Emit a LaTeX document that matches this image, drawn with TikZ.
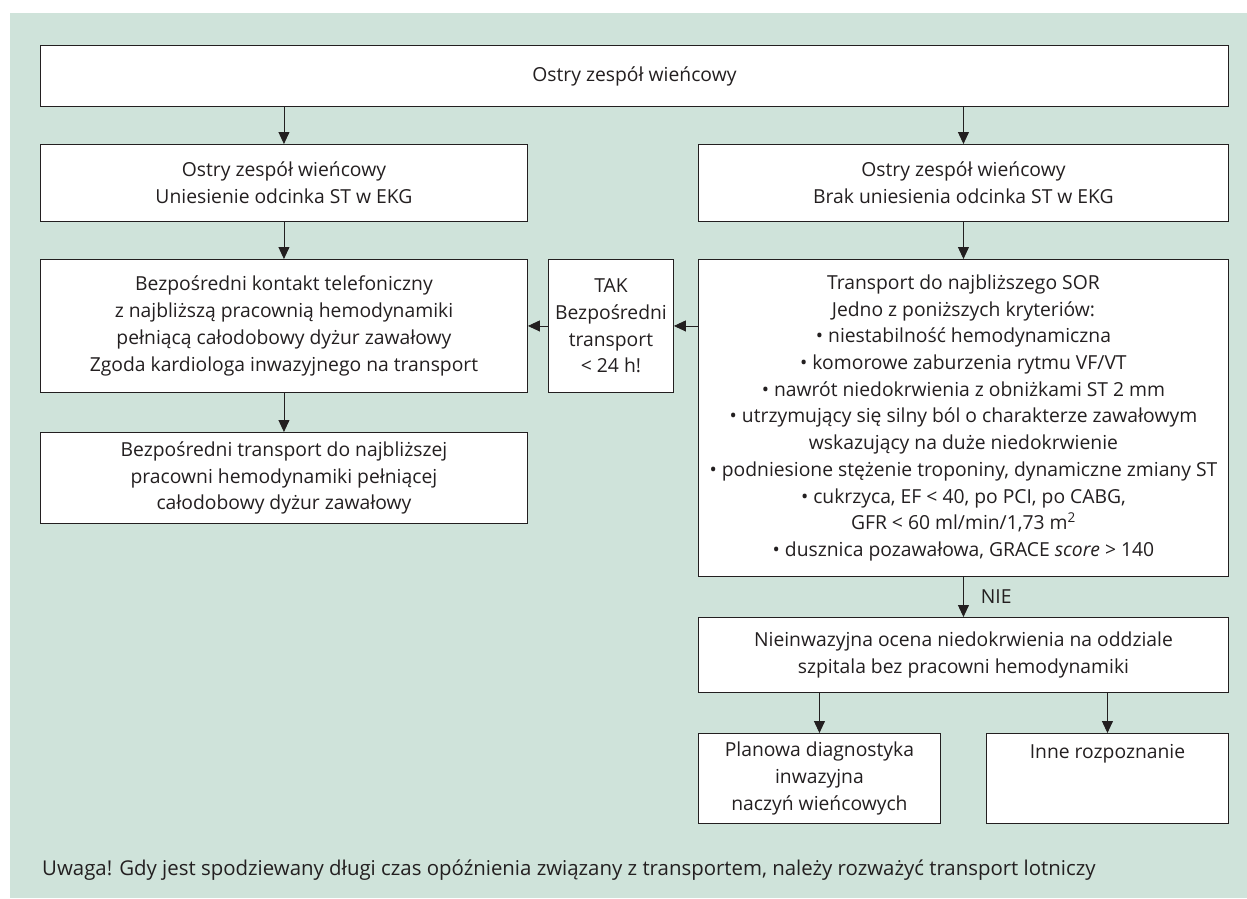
\documentclass[tikz,border=0pt]{standalone}
\usepackage{fontspec}
\setmainfont{Open Sans}
\usetikzlibrary{arrows.meta}
\definecolor{panel}{RGB}{207,227,218}
\definecolor{ink}{RGB}{35,31,32}
\begin{document}
\begin{tikzpicture}[x=1pt,y=-1pt,
  box/.style={draw=ink, line width=0.9pt, fill=white, rectangle, inner sep=0pt,
    align=center, font=\fontsize{19.3}{26.7}\selectfont, text=ink, anchor=north west},
  arr/.style={draw=ink, line width=0.9pt, -{Triangle[width=11pt,length=12pt]}},
  lbl/.style={font=\fontsize{19.3}{26.7}\selectfont, text=ink, inner sep=0pt}
]
\useasboundingbox (0,0) rectangle (1247,898);
\fill[panel] (10,13) rectangle (1247,898);

\node[box, minimum width=1188pt, minimum height=61pt] (top) at (40,45) {Ostry zespół wieńcowy};
\node[box, minimum width=487pt, minimum height=77pt] (L1) at (40,144)
  {Ostry zespół wieńcowy\\Uniesienie odcinka ST w EKG};
\node[box, minimum width=530pt, minimum height=77pt] (R1) at (698,144)
  {Ostry zespół wieńcowy\\Brak uniesienia odcinka ST w EKG};
\node[box, minimum width=487pt, minimum height=133pt] (L2) at (40,259)
  {Bezpośredni kontakt telefoniczny\\z najbliższą pracownią hemodynamiki\\pełniącą całodobowy dyżur zawałowy\\Zgoda kardiologa inwazyjnego na transport};
\node[box, minimum width=125pt, minimum height=133pt] (tak) at (548,259)
  {TAK\\Bezpośredni\\transport\\< 24 h!};
\node[box, minimum width=530pt, minimum height=317pt] (R2) at (698,259)
  {Transport do najbliższego SOR\\
   Jedno z poniższych kryteriów:\\
   • niestabilność hemodynamiczna\\
   • komorowe zaburzenia rytmu VF/VT\\
   • nawrót niedokrwienia z obniżkami ST 2 mm\\
   • utrzymujący się silny ból o charakterze zawałowym\\
   wskazujący na duże niedokrwienie\\
   • podniesione stężenie troponiny, dynamiczne zmiany ST\\
   • cukrzyca, EF < 40, po PCI, po CABG,\\
   GFR < 60 ml/min/1,73 m\textsuperscript{2}\\
   • dusznica pozawałowa, GRACE \textit{score} > 140};
\node[box, minimum width=487pt, minimum height=91pt] (L3) at (40,432)
  {Bezpośredni transport do najbliższej\\pracowni hemodynamiki pełniącej\\całodobowy dyżur zawałowy};
\node[box, minimum width=530pt, minimum height=75pt] (N) at (698,617)
  {Nieinwazyjna ocena niedokrwienia na oddziale\\szpitala bez pracowni hemodynamiki};
\node[box, minimum width=242pt, minimum height=90pt] (P) at (698,733)
  {Planowa diagnostyka\\inwazyjna\\naczyń wieńcowych};
\node[box, minimum width=242pt, minimum height=90pt] (I) at (986,733)
  {Inne rozpoznanie\\\mbox{}\\\mbox{}};
\node[lbl, font=\fontsize{20.4}{26.7}\selectfont, anchor=base west] (foot) at (42,875)
  {Uwaga! Gdy jest spodziewany długi czas opóźnienia związany z transportem, należy rozważyć transport lotniczy};

\draw[arr] (top.south -| L1.north) -- (L1.north);
\draw[arr] (top.south -| R1.north) -- (R1.north);
\draw[arr] (L1.south) -- (L2.north);
\draw[arr] (R1.south) -- (R2.north);
\draw[arr] (R2.west |- tak.east) -- (tak.east);
\draw[arr] (tak.west) -- (L2.east);
\draw[arr] (L2.south) -- (L3.north);
\draw[arr] (R2.south) -- node[lbl, anchor=west, xshift=17pt] {NIE} (N.north);
\draw[arr] (N.south -| P.north) -- (P.north);
\draw[arr] (N.south -| I.north) -- (I.north);
\end{tikzpicture}
\end{document}
